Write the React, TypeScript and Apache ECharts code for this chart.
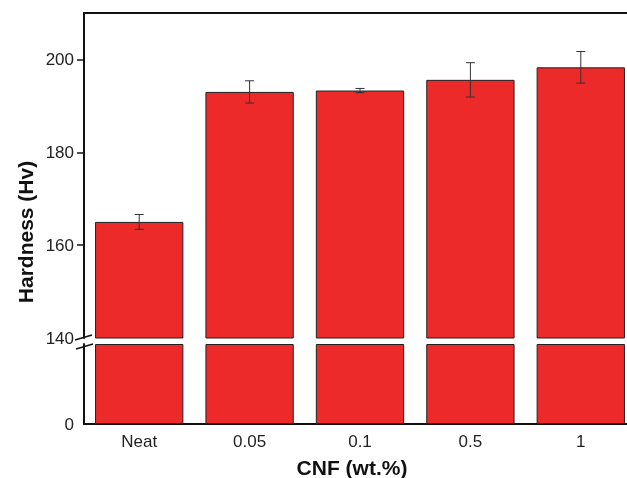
import React, { useEffect, useRef } from "react";
import * as echarts from "echarts";

const categories = ["Neat", "0.05", "0.1", "0.5", "1"];
const hardness = [165.0, 193.0, 193.3, 195.6, 198.3];
const hardnessErr = [1.6, 2.4, 0.45, 3.7, 3.4];
const breakValue = 140;
const upperMax = 210;
const upperTickLabels = [140, 160, 180, 200];
const upperTicks = [160, 180, 200];
const lowerTickLabels = [0];

const FONT = "Liberation Sans, Arial, sans-serif";
const RED = "#ED2A2A";

export default function App() {
  const ref = useRef<HTMLDivElement>(null);
  useEffect(() => {
    if (!ref.current) return;
    const chart = echarts.init(ref.current, null, { renderer: "svg" });
    const lowerData = hardness.map((v) => Math.min(v, breakValue));
    const errData = hardness.map((v, i) => [i, v, hardnessErr[i]]);
    const axisLine = { show: true, onZero: false, lineStyle: { color: "#111", width: 2 } };
    const labelStyle = { color: "#222", fontSize: 17, fontFamily: FONT };
    chart.setOption({
      animation: false,
      grid: [
        { left: 84, top: 13, width: 552, height: 325, containLabel: false },
        { left: 84, top: 344, width: 552, height: 80, containLabel: false },
      ],
      xAxis: [
        {
          type: "category",
          gridIndex: 0,
          data: categories,
          position: "top",
          axisLine,
          axisTick: { show: false },
          axisLabel: { show: false },
          splitLine: { show: false },
        },
        {
          type: "category",
          gridIndex: 1,
          data: categories,
          position: "bottom",
          axisLine,
          axisTick: { show: false },
          axisLabel: { ...labelStyle, margin: 9 },
          splitLine: { show: false },
        },
      ],
      yAxis: [
        {
          type: "value",
          gridIndex: 0,
          min: breakValue,
          max: upperMax,
          interval: 20,
          axisLine,
          axisTick: { show: true, inside: false, length: 7, customValues: upperTicks, lineStyle: { color: "#111", width: 1.5 } },
          axisLabel: { ...labelStyle, margin: 10, customValues: upperTickLabels },
          splitLine: { show: false },
        },
        {
          type: "value",
          gridIndex: 1,
          min: 0,
          max: breakValue,
          axisLine,
          axisTick: { show: false },
          axisLabel: { ...labelStyle, margin: 10, customValues: lowerTickLabels },
          splitLine: { show: false },
        },
      ],
      series: [
        {
          type: "bar",
          xAxisIndex: 0,
          yAxisIndex: 0,
          data: hardness,
          barWidth: "80%",
          clip: true,
          itemStyle: { color: RED, borderColor: "#222", borderWidth: 1 },
        },
        {
          type: "bar",
          xAxisIndex: 1,
          yAxisIndex: 1,
          data: lowerData,
          barWidth: "80%",
          clip: true,
          itemStyle: { color: RED, borderColor: "#222", borderWidth: 1 },
        },
        {
          type: "custom",
          xAxisIndex: 0,
          yAxisIndex: 0,
          z: 10,
          data: errData,
          renderItem: (params: any, api: any) => {
            const i = api.value(0);
            const v = api.value(1);
            const e = api.value(2);
            const top = api.coord([i, v + e]);
            const bot = api.coord([i, v - e]);
            const hw = 4.5;
            const style = { stroke: "#333", lineWidth: 1 };
            return {
              type: "group",
              children: [
                { type: "line", shape: { x1: top[0], y1: top[1], x2: bot[0], y2: bot[1] }, style },
                { type: "line", shape: { x1: top[0] - hw, y1: top[1], x2: top[0] + hw, y2: top[1] }, style },
                { type: "line", shape: { x1: bot[0] - hw, y1: bot[1], x2: bot[0] + hw, y2: bot[1] }, style },
              ],
            };
          },
        },
      ],
      graphic: [
        { type: "line", shape: { x1: 75, y1: 340, x2: 92, y2: 335 }, style: { stroke: "#111", lineWidth: 1.5 } },
        { type: "line", shape: { x1: 76, y1: 349, x2: 93, y2: 344 }, style: { stroke: "#111", lineWidth: 1.5 } },
        {
          type: "text",
          x: 25,
          y: 232,
          rotation: Math.PI / 2,
          style: { text: "Hardness (Hv)", fontSize: 21, fontWeight: "bold", fontFamily: FONT, fill: "#111", align: "center", verticalAlign: "middle" },
        },
        {
          type: "text",
          x: 352,
          y: 467,
          style: { text: "CNF (wt.%)", fontSize: 21, fontWeight: "bold", fontFamily: FONT, fill: "#111", align: "center", verticalAlign: "middle" },
        },
      ],
    });
    return () => chart.dispose();
  }, []);
  return (
    <div style={{ position: "fixed", left: 0, top: 0, width: 627, height: 478, overflow: "hidden" }}>
      <div ref={ref} style={{ width: 660, height: 478 }} />
    </div>
  );
}
